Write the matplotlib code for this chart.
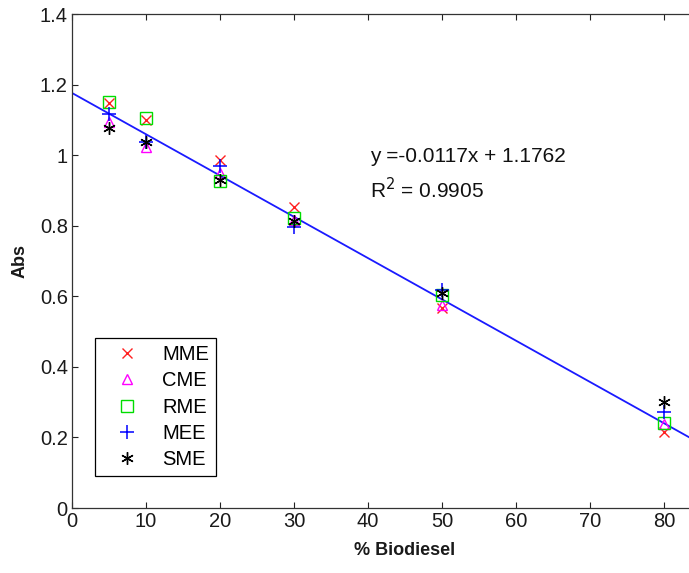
import matplotlib
matplotlib.use("Agg")
import matplotlib.pyplot as plt
import numpy as np

plt.rcParams['font.family'] = ['Liberation Sans', 'DejaVu Sans']

x_biodiesel = [5, 10, 20, 30, 50, 80]
mme = [1.147, 1.100, 0.985, 0.852, 0.567, 0.216]
cme = [1.095, 1.024, 0.950, 0.815, 0.575, 0.238]
rme = [1.152, 1.105, 0.927, 0.823, 0.603, 0.241]
mee = [1.117, 1.036, 0.970, 0.797, 0.618, 0.273]
sme = [1.078, 1.036, 0.929, 0.814, 0.609, 0.300]
series_names = ['MME', 'CME', 'RME', 'MEE', 'SME']
fit_slope = -0.0117
fit_intercept = 1.1762
x_ticks = [0, 10, 20, 30, 40, 50, 60, 70, 80]
y_ticks = [0, 0.2, 0.4, 0.6, 0.8, 1.0, 1.2, 1.4]
y_ticklabels = ['0', '0.2', '0.4', '0.6', '0.8', '1', '1.2', '1.4']

fig = plt.figure(figsize=(6.89, 5.73), dpi=100)
ax = fig.add_axes([72/689, 65/573, 666/689, 494/573])

styles = [
    dict(marker='x', color='#ff2020', ms=7.5, mew=1.0),
    dict(marker='^', color='#ff00ff', ms=7.5, mew=1.0, mfc='none'),
    dict(marker='s', color='#00dd00', ms=8, mew=1.0, mfc='none'),
    dict(marker='+', color='#0000ff', ms=10, mew=1.1),
    dict(marker=(6, 2, 0), color='black', ms=9, mew=1.0),
]
data = [mme, cme, rme, mee, sme]
for name, vals, st in zip(series_names, data, styles):
    ax.plot(x_biodiesel, vals, linestyle='none', label=name, zorder=3, **st)

xf = np.array([0, 90])
ax.plot(xf, fit_slope * xf + fit_intercept, color='#1a1aff', lw=1.3, zorder=2)

ax.set_xlim(0, 90)
ax.set_ylim(0, 1.4)
ax.set_xticks(x_ticks)
ax.set_yticks(y_ticks)
ax.set_yticklabels(y_ticklabels)
ax.tick_params(direction='in', length=4, width=0.8, labelsize=14.5, top=True, right=True,
               colors='#222222', labelcolor='#1a1a1a', pad=3)
for sp in ax.spines.values():
    sp.set_linewidth(0.9)
    sp.set_color('#333333')

ax.set_xlabel('% Biodiesel', fontsize=13, fontweight='bold', labelpad=8, color='#1a1a1a')
ax.set_ylabel('Abs', fontsize=13, fontweight='bold', labelpad=8, color='#1a1a1a')

ax.text(40.3, 0.995, 'y =-0.0117x + 1.1762', fontsize=15, va='center', ha='left', color='#111111')
ax.text(40.3, 0.901, 'R$^2$ = 0.9905', fontsize=15, va='center', ha='left', color='#111111')

leg = ax.legend(loc='upper left', bbox_to_anchor=(23/666, 0.344), fancybox=False,
                edgecolor='black', fontsize=14.5, handlelength=2.5, handletextpad=0.5,
                labelspacing=0.36, borderpad=0.35, borderaxespad=0, framealpha=1)
leg.get_frame().set_linewidth(0.9)

fig.savefig('out.png', dpi=100)
